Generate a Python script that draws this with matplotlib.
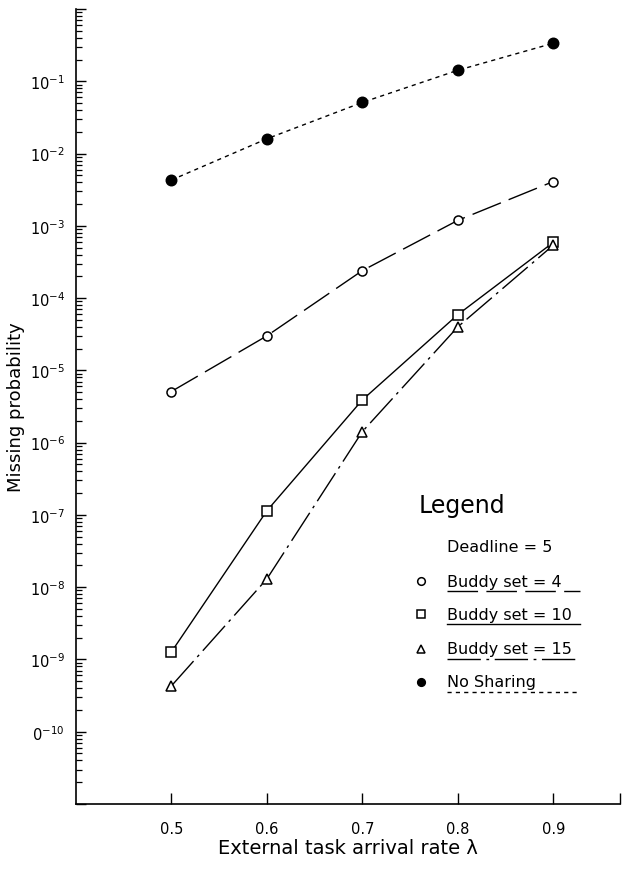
import matplotlib
matplotlib.use("Agg")
import matplotlib.pyplot as plt
from matplotlib.ticker import FixedLocator, LogLocator, NullFormatter, FixedFormatter

# arrival rates on the x axis
arrival_rate = [0.5, 0.6, 0.7, 0.8, 0.9]

# missing probability for each scheme (deadline = 5)
buddy_4 = [5.1e-6, 3.0e-5, 2.4e-4, 1.19e-3, 4.1e-3]
buddy_10 = [1.27e-9, 1.14e-7, 3.9e-6, 5.9e-5, 5.9e-4]
buddy_15 = [4.3e-10, 1.3e-8, 1.42e-6, 4.0e-5, 5.4e-4]
no_sharing = [4.3e-3, 1.6e-2, 5.1e-2, 0.142, 0.336]

series_labels = ["Buddy set = 4", "Buddy set = 10", "Buddy set = 15", "No Sharing"]
y_tick_labels = [r"$10^{-1}$", r"$10^{-2}$", r"$10^{-3}$", r"$10^{-4}$", r"$10^{-5}$",
                 r"$10^{-6}$", r"$10^{-7}$", r"$10^{-8}$", r"$10^{-9}$", r"$0^{-10}$"]
x_tick_labels = ["0.5", "0.6", "0.7", "0.8", "0.9"]

plt.rcParams['font.family'] = ['DejaVu Sans']
plt.rcParams['mathtext.fontset'] = 'dejavusans'

fig = plt.figure(figsize=(6.22, 8.70), dpi=100)
ax = fig.add_axes([0.122, 0.0747, 0.875, 0.9138])

styles = [
    dict(marker='o', mfc='white', dashes=(22, 6)),
    dict(marker='s', mfc='white', linestyle='-'),
    dict(marker='^', mfc='white', dashes=(24, 4, 2, 4)),
    dict(marker='o', mfc='black', dashes=(3, 3)),
]
all_series = [buddy_4, buddy_10, buddy_15, no_sharing]

for vals, st in zip(all_series, styles):
    ms = 7.5 if st['mfc'] == 'black' else 6.5
    ax.plot(arrival_rate, vals, color='black', lw=1.0, mec='black', mew=1.1,
            ms=ms, **st)

ax.set_yscale('log')
ax.set_ylim(1e-11, 1)
ax.set_xlim(0.4, 0.97)

# y ticks: decades with labels from 1e-1 down to 1e-10
decades = [10.0 ** -k for k in range(0, 12)]
ax.yaxis.set_major_locator(FixedLocator(decades))
ax.yaxis.set_major_formatter(FixedFormatter([""] + y_tick_labels + [""]))
ax.yaxis.set_minor_locator(LogLocator(base=10, subs=range(2, 10), numticks=20))
ax.yaxis.set_minor_formatter(NullFormatter())

ax.set_xticks(arrival_rate)
ax.set_xticklabels(x_tick_labels)
ax.set_xticks([0.97], minor=True)

ax.tick_params(axis='y', which='major', direction='in', length=7, width=1.0,
               labelsize=10.5, pad=8)
ax.tick_params(axis='y', which='minor', direction='in', length=4, width=0.9)
ax.tick_params(axis='x', which='both', direction='in', length=8, width=1.0,
               labelsize=10.5, pad=12)

for side in ('top', 'right'):
    ax.spines[side].set_visible(False)
for side in ('left', 'bottom'):
    ax.spines[side].set_linewidth(1.2)

ax.set_ylabel("Missing probability", fontsize=13, labelpad=3)
ax.set_xlabel("External task arrival rate λ", fontsize=14, labelpad=2)

# hand-drawn legend block in the lower right
tr = ax.transAxes
ax.text(0.629, 0.376, "Legend", transform=tr, fontsize=17, va='center', ha='left')
ax.text(0.682, 0.3245, "Deadline = 5", transform=tr, fontsize=11.5, va='center', ha='left')
row_y = [0.2805, 0.239, 0.195, 0.1535]
for label, y, st in zip(series_labels, row_y, styles):
    ax.text(0.682, y, label, transform=tr, fontsize=11.5, va='center', ha='left')
    ax.plot([0.634], [y], transform=tr, marker=st['marker'], mfc=st['mfc'],
            mec='black', mew=1.1, ms=5.5, linestyle='none', clip_on=False)
    line_kw = {k: v for k, v in st.items() if k in ('dashes', 'linestyle')}
    ax.plot([0.682, 0.926], [y - 0.0125, y - 0.0125], transform=tr, color='black',
            lw=1.0, clip_on=False, **line_kw)

fig.savefig("out.png", dpi=100)
